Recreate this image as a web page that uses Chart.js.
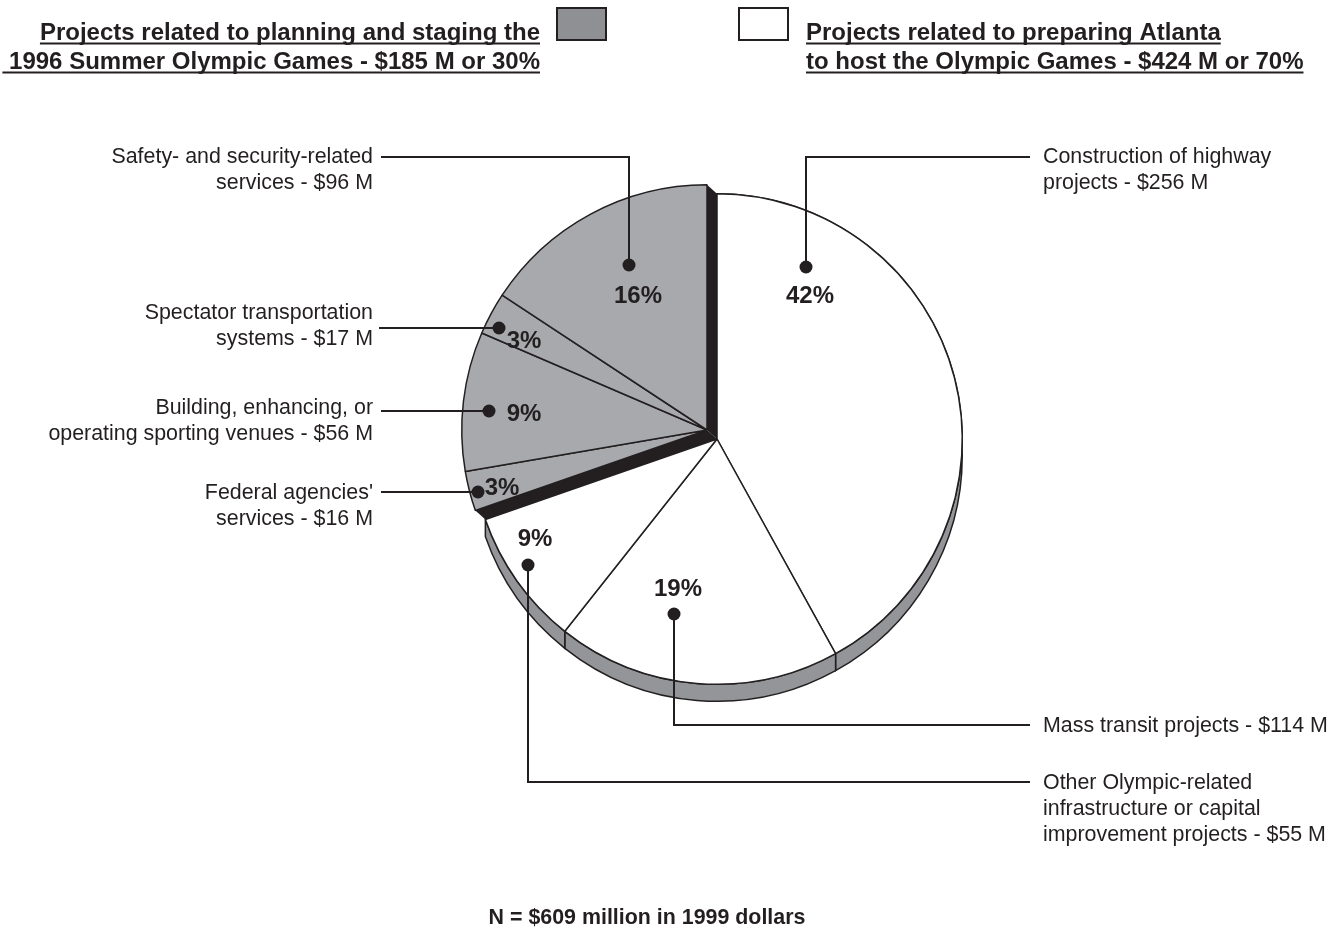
<!DOCTYPE html>
<html>
<head>
<meta charset="utf-8">
<script src="https://cdn.jsdelivr.net/npm/chart.js@4"></script>
<style>
  html, body { margin: 0; padding: 0; background: #ffffff; }
  #wrap { position: relative; width: 1343px; height: 931px; }
</style>
</head>
<body>
<div id="wrap"><canvas id="pieChart" width="1343" height="931"></canvas></div>
<script>
// spending categories, clockwise from 12 o'clock
const categories = [
  "Construction of highway projects",
  "Mass transit projects",
  "Other Olympic-related infrastructure or capital improvement projects",
  "Federal agencies' services",
  "Building, enhancing, or operating sporting venues",
  "Spectator transportation systems",
  "Safety- and security-related services"
];
const amounts = [256, 114, 55, 16, 56, 17, 96];           // $ millions
const groups = ["prep", "prep", "prep", "games", "games", "games", "games"];

const calloutLines = [
  ["Construction of highway", "projects - $256 M"],
  ["Mass transit projects - $114 M"],
  ["Other Olympic-related", "infrastructure or capital", "improvement projects - $55 M"],
  ["Federal agencies'", "services - $16 M"],
  ["Building, enhancing, or", "operating sporting venues - $56 M"],
  ["Spectator transportation", "systems - $17 M"],
  ["Safety- and security-related", "services - $96 M"]
];

const headerLeft = ["Projects related to planning and staging the", " 1996 Summer Olympic Games - $185 M or 30%"];
const headerRight = ["Projects related to preparing Atlanta", "to host the Olympic Games - $424 M or 70%"];
const footnote = "N = $609 million in 1999 dollars";

const total = amounts.reduce((s, v) => s + v, 0);
const INK = "#231f20";
const colorMap = { prep: "#ffffff", games: "#a7a9ac" };

// layout of the callouts (dot, elbow, label anchor) and of the % labels
const dots = [[806, 267], [674, 614], [528, 565], [478, 492], [489, 411], [499, 328], [629, 265]];
const elbows = [[806, 157, 1030], [674, 725, 1030], [528, 782, 1030], [478, 492, 381], [489, 411, 381], [499, 328, 379], [629, 157, 381]];
const labelAnchor = [[1043, 157], [1043, 726], [1043, 783], [373, 493], [373, 408], [373, 313], [373, 157]];
const pctPos = [[810, 296], [678, 589], [535, 539], [502, 488], [524, 414], [524, 341], [638, 296]];

const gamesShift = { dx: -10, dy: -9 };
const rimDepth = 17;

const explodePlugin = {
  id: "explode",
  afterDatasetsUpdate(chart) {
    const meta = chart.getDatasetMeta(0);
    const cx = (chart.chartArea.left + chart.chartArea.right) / 2;
    const cy = (chart.chartArea.top + chart.chartArea.bottom) / 2;
    meta.data.forEach((arc, i) => {
      if (groups[i] === "games") {
        arc.x = cx + gamesShift.dx;
        arc.y = cy + gamesShift.dy;
      }
    });
  },
  beforeDatasetsDraw(chart) {
    const ctx = chart.ctx;
    const meta = chart.getDatasetMeta(0);
    ctx.save();
    // 3d rim under the white part
    meta.data.forEach((arc, i) => {
      if (groups[i] !== "prep") return;
      const { x, y, startAngle, endAngle, outerRadius } = arc;
      ctx.beginPath();
      ctx.arc(x, y + rimDepth, outerRadius, startAngle, endAngle);
      ctx.lineTo(x + outerRadius * Math.cos(endAngle), y + outerRadius * Math.sin(endAngle));
      ctx.arc(x, y, outerRadius, endAngle, startAngle, true);
      ctx.closePath();
      ctx.fillStyle = "#939598";
      ctx.fill();
      ctx.lineWidth = 1.5;
      ctx.strokeStyle = INK;
      ctx.stroke();
    });
    // black side faces of the exploded group
    const gi = groups.map((g, i) => g === "games" ? i : -1).filter(i => i >= 0);
    const first = meta.data[gi[0]], last = meta.data[gi[gi.length - 1]];
    [[first, first.startAngle], [last, last.endAngle]].forEach(([arc, a]) => {
      const r = arc.outerRadius;
      const px = arc.x + r * Math.cos(a), py = arc.y + r * Math.sin(a);
      ctx.beginPath();
      ctx.moveTo(arc.x, arc.y);
      ctx.lineTo(px, py);
      ctx.lineTo(px - gamesShift.dx, py - gamesShift.dy);
      ctx.lineTo(arc.x - gamesShift.dx, arc.y - gamesShift.dy);
      ctx.closePath();
      ctx.fillStyle = INK;
      ctx.fill();
    });
    ctx.restore();
  },
  afterDraw(chart) {
    const ctx = chart.ctx;
    ctx.save();
    ctx.fillStyle = INK;
    ctx.strokeStyle = INK;

    // percentage labels
    ctx.font = "bold 24px 'Liberation Sans', Arial, sans-serif";
    ctx.textAlign = "center";
    ctx.textBaseline = "middle";
    amounts.forEach((v, i) => {
      ctx.fillText(Math.round(v / total * 100) + "%", pctPos[i][0], pctPos[i][1]);
    });

    // callout leaders
    ctx.lineWidth = 2;
    dots.forEach(([dx, dy], i) => {
      const [ex, ey, endX] = elbows[i];
      ctx.beginPath();
      ctx.moveTo(dx, dy);
      ctx.lineTo(ex, ey);
      ctx.lineTo(endX, ey);
      ctx.stroke();
      ctx.beginPath();
      ctx.arc(dx, dy, 6.5, 0, Math.PI * 2);
      ctx.fill();
    });

    // callout labels
    ctx.font = "21.4px 'Liberation Sans', Arial, sans-serif";
    calloutLines.forEach((lines, i) => {
      const [lx, ly] = labelAnchor[i];
      ctx.textAlign = lx > 700 ? "left" : "right";
      lines.forEach((t, k) => ctx.fillText(t, lx, ly + k * 26));
    });

    // header legend
    ctx.font = "bold 24px 'Liberation Sans', Arial, sans-serif";
    ctx.textBaseline = "alphabetic";
    ctx.lineWidth = 2;
    headerLeft.forEach((t, k) => {
      const y = 40 + k * 29;
      const w = ctx.measureText(t).width;
      ctx.textAlign = "right";
      ctx.fillText(t, 540, y);
      ctx.beginPath();
      ctx.moveTo(540 - w, y + 3.5);
      ctx.lineTo(540, y + 3.5);
      ctx.stroke();
    });
    headerRight.forEach((t, k) => {
      const y = 40 + k * 29;
      const w = ctx.measureText(t).width;
      ctx.textAlign = "left";
      ctx.fillText(t, 806, y);
      ctx.beginPath();
      ctx.moveTo(806, y + 3.5);
      ctx.lineTo(806 + w, y + 3.5);
      ctx.stroke();
    });
    ctx.fillStyle = "#8e9093";
    ctx.fillRect(557, 8, 49, 32);
    ctx.strokeRect(557, 8, 49, 32);
    ctx.fillStyle = "#ffffff";
    ctx.fillRect(739, 8, 49, 32);
    ctx.strokeRect(739, 8, 49, 32);

    // footnote
    ctx.fillStyle = INK;
    ctx.font = "bold 21.4px 'Liberation Sans', Arial, sans-serif";
    ctx.textAlign = "center";
    ctx.textBaseline = "middle";
    ctx.fillText(footnote, 647, 918);
    ctx.restore();
  }
};

new Chart(document.getElementById("pieChart"), {
  type: "pie",
  data: {
    labels: categories,
    datasets: [{
      data: amounts,
      backgroundColor: groups.map(g => colorMap[g]),
      borderColor: INK,
      borderWidth: 1.5
    }]
  },
  options: {
    responsive: false,
    animation: false,
    events: [],
    layout: { padding: { left: 471, right: 380, top: 193, bottom: 246 } },
    plugins: {
      legend: { display: false },
      tooltip: { enabled: false }
    }
  },
  plugins: [explodePlugin]
});
</script>
</body>
</html>
